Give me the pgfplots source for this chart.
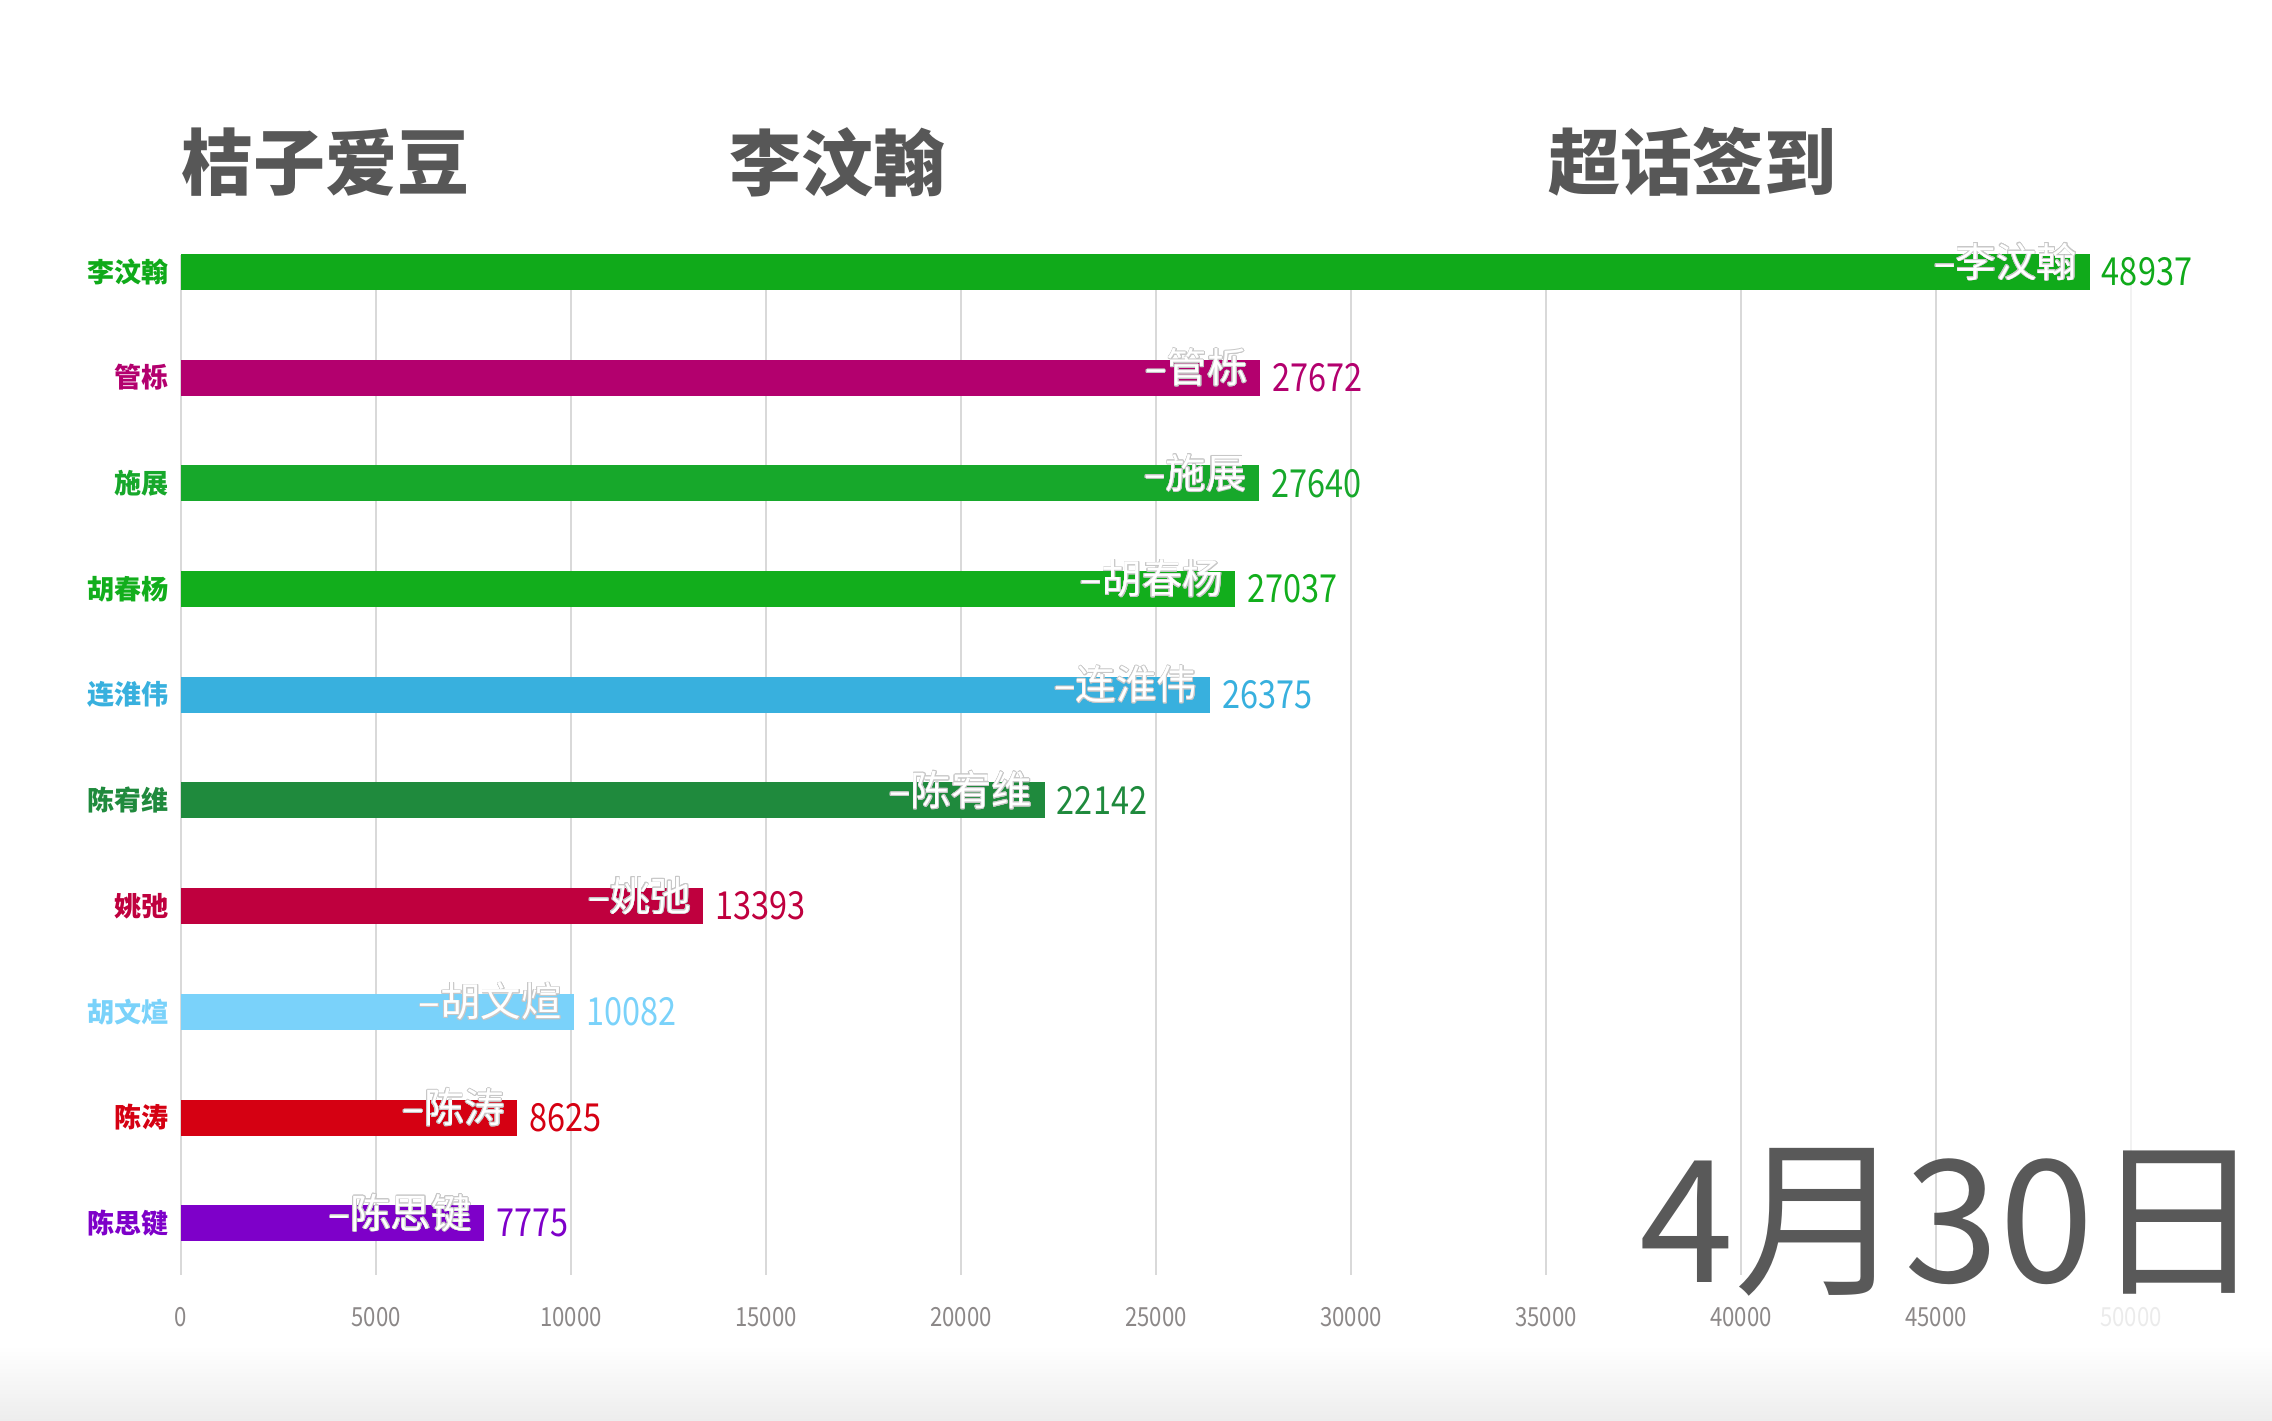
\documentclass[border=0pt]{standalone}
\usepackage{fontspec}
\setmainfont{Noto Sans CJK SC}
\newfontfamily\narrow[FakeStretch=0.84]{Noto Sans CJK SC}
\usepackage{pgfplots}
\pgfplotsset{compat=1.18}
\usepackage{contour}
\contourlength{0.2pt}
\contournumber{16}
\definecolor{c0}{HTML}{10AA1A}
\definecolor{c1}{HTML}{B3006E}
\definecolor{c2}{HTML}{17A82B}
\definecolor{c3}{HTML}{12AE1C}
\definecolor{c4}{HTML}{38B0DE}
\definecolor{c5}{HTML}{1F8A3D}
\definecolor{c6}{HTML}{BF003E}
\definecolor{c7}{HTML}{7AD2FA}
\definecolor{c8}{HTML}{D50012}
\definecolor{c9}{HTML}{7E00C9}
\definecolor{ink}{HTML}{575757}
\definecolor{tick}{HTML}{8C8888}

% one bar: colour, value, row, name
\newcommand\pbar[4]{%
  \addplot[fill=#1, draw=none,
    nodes near coords, point meta=explicit symbolic,
    nodes near coords style={text=#1, anchor=west, font=\narrow\fontsize{11}{12}\selectfont}]
    coordinates {(#2,#3) [#2]};
  \node[anchor=east, text=white, yshift=0.1cm, font=\fontsize{11.5}{12}\selectfont]
    at (axis cs:#2,#3) {\contour{black!22}{–#4}};
}

\begin{document}
\begin{tikzpicture}
\path[use as bounding box] (0,0) rectangle (22.72,14.2);
\shade[top color=white, bottom color=black!7] (0,0) rectangle (22.72,0.75);

\node[anchor=west, inner sep=0pt, text=ink, font=\fontsize{20.5}{22}\selectfont\bfseries] at (1.81,12.58) {桔子爱豆};
\node[anchor=west, inner sep=0pt, text=ink, font=\fontsize{20.5}{22}\selectfont\bfseries] at (7.29,12.58) {李汶翰};
\node[anchor=west, inner sep=0pt, text=ink, font=\fontsize{20.5}{22}\selectfont\bfseries] at (15.48,12.58) {超话签到};

\begin{axis}[
  at={(1.81cm,1.45cm)}, anchor=south west, scale only axis,
  width=19.5cm, height=10.2cm,
  xmin=0, xmax=50000, ymin=-0.16, ymax=9.49, y dir=reverse,
  xbar, bar width=0.36cm, bar shift=0pt,
  axis line style={draw=none}, major tick length=0pt,
  xtick={0,5000,...,45000},
  extra x ticks={50000},
  extra x tick style={grid style={black!5, line width=0.8pt},
    xticklabel style={text=black!8}},
  xmajorgrids, grid style={black!15, line width=0.8pt},
  ytick={0,...,9},
  yticklabels={
    \textcolor{c0}{李汶翰}, \textcolor{c1}{管栎}, \textcolor{c2}{施展},
    \textcolor{c3}{胡春杨}, \textcolor{c4}{连淮伟}, \textcolor{c5}{陈宥维},
    \textcolor{c6}{姚弛}, \textcolor{c7}{胡文煊}, \textcolor{c8}{陈涛},
    \textcolor{c9}{陈思键}},
  yticklabel style={font=\fontsize{7.7}{8}\selectfont\bfseries},
  xticklabel style={font=\narrow\fontsize{7.5}{8}\selectfont, text=tick, yshift=-0.2cm},
  scaled x ticks=false,
  /pgf/number format/1000 sep={},
  /pgf/number format/assume math mode=true,
  clip=false,
]
\pbar{c0}{48937}{0}{李汶翰}
\pbar{c1}{27672}{1}{管栎}
\pbar{c2}{27640}{2}{施展}
\pbar{c3}{27037}{3}{胡春杨}
\pbar{c4}{26375}{4}{连淮伟}
\pbar{c5}{22142}{5}{陈宥维}
\pbar{c6}{13393}{6}{姚弛}
\pbar{c7}{10082}{7}{胡文煊}
\pbar{c8}{8625}{8}{陈涛}
\pbar{c9}{7775}{9}{陈思键}
\end{axis}

\node[text=black!65, font=\fontsize{48.5}{49}\selectfont] at (19.52,1.98) {4月30日};
\end{tikzpicture}
\end{document}
